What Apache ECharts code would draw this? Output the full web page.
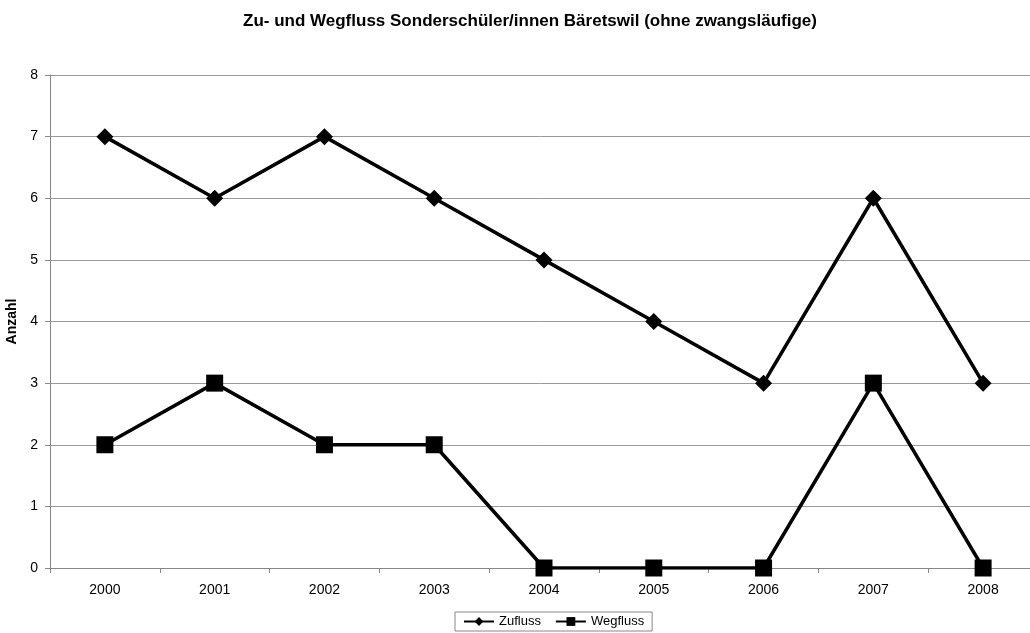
<!DOCTYPE html>
<html>
<head>
<meta charset="utf-8">
<script src="https://cdn.jsdelivr.net/npm/echarts@6/dist/echarts.min.js"></script>
<style>
    html, body { margin: 0; padding: 0; background: #fff; }
    #chart { width: 1030px; height: 633px; }
</style>
</head>
<body>
<div id="chart"></div>
<script>
// Jahre (x-Achse)
const years = ['2000', '2001', '2002', '2003', '2004', '2005', '2006', '2007', '2008'];
// Werte
const zufluss = [7, 6, 7, 6, 5, 4, 3, 6, 3];
const wegfluss = [2, 3, 2, 2, 0, 0, 0, 3, 0];

let chart = echarts.init(document.getElementById('chart'));
chart.setOption({
    backgroundColor: '#fff',
    animation: false,
    textStyle: { fontFamily: 'Liberation Sans, Arial, sans-serif' },
    title: {
        text: 'Zu- und Wegfluss Sonderschüler/innen Bäretswil (ohne zwangsläufige)',
        left: 525,
        textAlign: 'center',
        top: 8,
        textStyle: { fontSize: 17, fontWeight: 'bold', color: '#000' }
    },
    legend: {
        data: ['Zufluss', 'Wegfluss'],
        top: 612,
        left: 455,
        borderColor: '#888',
        borderWidth: 1,
        borderRadius: 0,
        padding: [3, 8],
        itemGap: 14,
        itemWidth: 30,
        itemHeight: 11,
        textStyle: { fontSize: 13, color: '#000' }
    },
    // Plot ist rechts angeschnitten wie im Original
    grid: {
        left: 50,
        width: 988,
        top: 75,
        bottom: 65,
        outerBoundsMode: 'none',
        containLabel: false
    },
    xAxis: {
        type: 'category',
        data: years,
        boundaryGap: true,
        axisLine: { lineStyle: { color: '#888', width: 1 } },
        axisTick: { show: true, alignWithLabel: false, length: 5, lineStyle: { color: '#888' } },
        axisLabel: { color: '#000', fontSize: 14, margin: 15 }
    },
    yAxis: {
        type: 'value',
        min: 0,
        max: 8,
        interval: 1,
        name: 'Anzahl',
        nameLocation: 'middle',
        nameGap: 25,
        nameTextStyle: { fontSize: 14, fontWeight: 'bold', color: '#000' },
        axisLine: { show: true, lineStyle: { color: '#888', width: 1 } },
        axisTick: { show: true, length: 5, lineStyle: { color: '#888' } },
        axisLabel: { color: '#000', fontSize: 14, margin: 12 },
        splitLine: { lineStyle: { color: '#999', width: 1 } }
    },
    series: [
        {
            name: 'Zufluss',
            type: 'line',
            data: zufluss,
            symbol: 'diamond',
            symbolSize: 17,
            lineStyle: { color: '#000', width: 3.5 },
            itemStyle: { color: '#000' }
        },
        {
            name: 'Wegfluss',
            type: 'line',
            data: wegfluss,
            symbol: 'rect',
            symbolSize: 17,
            lineStyle: { color: '#000', width: 3.5 },
            itemStyle: { color: '#000' }
        }
    ]
})
</script>
</body>
</html>
